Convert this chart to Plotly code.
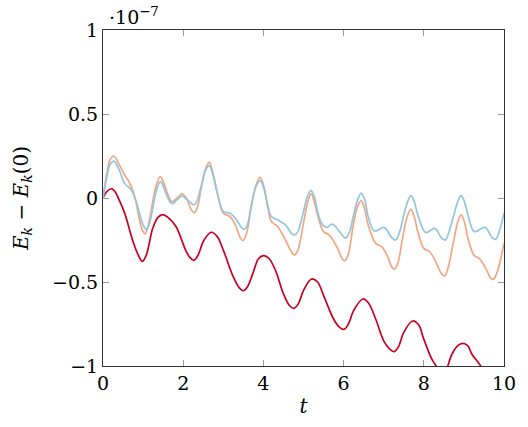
import plotly.graph_objects as go

# red series
t_red = [0.0, 0.1, 0.22, 0.32, 0.4, 0.54, 0.75, 0.88, 0.98, 1.08, 1.24, 1.37, 1.49, 1.62, 1.82, 2.06,
         2.17, 2.27, 2.37, 2.52, 2.70, 2.85, 3.0, 3.25, 3.40, 3.50, 3.60, 3.75, 3.88, 4.01, 4.14,
         4.3, 4.5, 4.65, 4.76, 4.87, 5.0, 5.20, 5.35, 5.5, 5.75, 5.9, 6.01, 6.12, 6.25, 6.48, 6.62,
         6.8, 7.0, 7.15, 7.26, 7.37, 7.5, 7.72, 7.87, 8.0, 8.25, 8.5, 8.7, 8.84, 8.97, 9.1, 9.2,
         9.42, 9.7, 10.0]
v_red = [0.0, 0.04, 0.055, 0.03, -0.01, -0.09, -0.26, -0.34, -0.377, -0.34, -0.18, -0.115, -0.099,
         -0.115, -0.17, -0.31, -0.355, -0.371, -0.34, -0.25, -0.204, -0.23, -0.31, -0.47, -0.535,
         -0.552, -0.53, -0.44, -0.36, -0.343, -0.36, -0.43, -0.57, -0.64, -0.657, -0.63, -0.55,
         -0.482, -0.5, -0.58, -0.72, -0.77, -0.782, -0.75, -0.67, -0.601, -0.625, -0.72, -0.85,
         -0.9, -0.915, -0.885, -0.80, -0.732, -0.755, -0.84, -0.98, -1.04, -0.93, -0.88, -0.865,
         -0.88, -0.93, -1.0, -1.12, -1.15]

# orange series
t_org = [0, 0.1, 0.18, 0.27, 0.4, 0.54, 0.67, 0.8, 0.9, 0.98, 1.05, 1.12, 1.2, 1.32, 1.43, 1.53, 1.6,
         1.72, 1.85, 1.97, 2.1, 2.2, 2.28, 2.36, 2.45, 2.55, 2.65, 2.75, 2.85, 3.0, 3.17, 3.3, 3.42,
         3.49, 3.57, 3.7, 3.82, 3.92, 4.02, 4.1, 4.2, 4.36, 4.55, 4.7, 4.78, 4.86, 5.0, 5.1, 5.19,
         5.28, 5.35, 5.5, 5.64, 5.85, 5.96, 6.03, 6.11, 6.25, 6.35, 6.44, 6.52, 6.6, 6.8, 6.95,
         7.1, 7.2, 7.27, 7.35, 7.5, 7.6, 7.68, 7.76, 7.85, 8.0, 8.15, 8.3, 8.44, 8.52, 8.6, 8.75,
         8.85, 8.93, 9.01, 9.1, 9.25, 9.38, 9.55, 9.66, 9.73, 9.8, 9.9, 10.0]
v_org = [0, 0.15, 0.23, 0.25, 0.2, 0.137, 0.087, 0.0, -0.12, -0.19, -0.214, -0.17, -0.08, 0.07, 0.127,
         0.08, 0.03, -0.022, 0.0, 0.024, -0.01, -0.07, -0.087, -0.05, 0.06, 0.17, 0.212, 0.14, 0.03,
         -0.09, -0.111, -0.16, -0.235, -0.254, -0.22, -0.05, 0.08, 0.123, 0.06, -0.04, -0.14,
         -0.171, -0.25, -0.32, -0.339, -0.31, -0.15, -0.03, 0.024, -0.03, -0.1, -0.2, -0.22, -0.3,
         -0.36, -0.373, -0.34, -0.15, -0.05, -0.016, -0.06, -0.15, -0.27, -0.29, -0.35, -0.41,
         -0.423, -0.39, -0.2, -0.1, -0.067, -0.11, -0.2, -0.3, -0.32, -0.38, -0.45, -0.464,
         -0.42, -0.25, -0.14, -0.101, -0.14, -0.24, -0.34, -0.36, -0.42, -0.475, -0.484, -0.46,
         -0.38, -0.27]

# blue series
t_blu = [0, 0.1, 0.18, 0.27, 0.4, 0.54, 0.71, 0.85, 1.0, 1.08, 1.16, 1.25, 1.35, 1.43, 1.52, 1.6,
         1.72, 1.85, 1.97, 2.1, 2.28, 2.45, 2.55, 2.65, 2.75, 2.85, 3.0, 3.17, 3.3, 3.45, 3.52,
         3.6, 3.7, 3.82, 3.92, 4.02, 4.1, 4.2, 4.36, 4.55, 4.7, 4.78, 4.86, 5.0, 5.1, 5.19, 5.28,
         5.35, 5.45, 5.58, 5.72, 5.9, 6.05, 6.15, 6.25, 6.35, 6.44, 6.53, 6.6, 6.77, 7.01, 7.2,
         7.30, 7.4, 7.5, 7.6, 7.68, 7.76, 7.85, 8.05, 8.27, 8.45, 8.54, 8.63, 8.75, 8.85, 8.93,
         9.01, 9.1, 9.26, 9.53, 9.7, 9.79, 9.88, 10.0]
v_blu = [0, 0.13, 0.2, 0.22, 0.17, 0.087, 0.048, -0.04, -0.16, -0.187, -0.15, -0.05, 0.06, 0.097,
         0.06, 0.01, -0.034, -0.01, 0.012, -0.01, -0.04, 0.07, 0.16, 0.192, 0.13, 0.03, -0.08,
         -0.091, -0.12, -0.175, -0.187, -0.16, -0.04, 0.07, 0.103, 0.05, -0.04, -0.11, -0.131,
         -0.16, -0.21, -0.22, -0.2, -0.08, 0.01, 0.044, 0.0, -0.08, -0.15, -0.175, -0.155, -0.2,
         -0.24, -0.2, -0.1, -0.01, 0.028, -0.01, -0.1, -0.196, -0.175, -0.235, -0.25, -0.2, -0.1,
         -0.02, 0.014, -0.02, -0.1, -0.206, -0.181, -0.24, -0.25, -0.2, -0.1, -0.02, 0.014, -0.02,
         -0.1, -0.2, -0.175, -0.235, -0.246, -0.2, -0.09]

x_ticks = [0, 2, 4, 6, 8, 10]
y_ticks = [-1, -0.5, 0, 0.5, 1]
y_ticklabels = ["\u22121", "\u22120.5", "0", "0.5", "1"]

FONT = "DejaVu Serif"

fig = go.Figure()
fig.add_trace(go.Scatter(x=t_red, y=v_red, mode="lines",
                         line=dict(color="#ca0020", width=1.7, shape="spline", smoothing=1.0)))
fig.add_trace(go.Scatter(x=t_org, y=v_org, mode="lines",
                         line=dict(color="#f4a582", width=1.7, shape="spline", smoothing=1.0)))
fig.add_trace(go.Scatter(x=t_blu, y=v_blu, mode="lines",
                         line=dict(color="#92c5de", width=1.7, shape="spline", smoothing=1.0)))

fig.update_layout(
    width=528, height=427,
    margin=dict(l=103, r=20, t=30, b=61),
    paper_bgcolor="white", plot_bgcolor="white",
    showlegend=False,
    font=dict(family=FONT, size=19, color="black"),
)
fig.update_xaxes(range=[0, 10], tickvals=x_ticks, ticktext=[str(v) for v in x_ticks],
                 showgrid=False, zeroline=False, showline=True, linecolor="#333", linewidth=1,
                 mirror="ticks", ticks="inside", ticklen=6, tickcolor="#999",
                 tickfont=dict(family=FONT, size=19),
                 title=dict(text="<i>t</i>", font=dict(family=FONT, size=20), standoff=6))
fig.update_yaxes(range=[-1, 1], tickvals=y_ticks, ticktext=y_ticklabels,
                 showgrid=False, zeroline=False, showline=True, linecolor="#333", linewidth=1,
                 mirror="ticks", ticks="inside", ticklen=6, tickcolor="#999",
                 tickfont=dict(family=FONT, size=19),
                 title=dict(text="<i>E<sub>k</sub></i> \u2212 <i>E<sub>k</sub></i>(0)",
                            font=dict(family=FONT, size=20), standoff=18))
fig.add_annotation(text="\u00b710<sup>\u22127</sup>", xref="paper", yref="paper",
                   x=0.0, y=1.0, xanchor="left", yanchor="bottom", showarrow=False,
                   xshift=4, yshift=0, font=dict(family=FONT, size=19))

fig.write_html("out.html")
